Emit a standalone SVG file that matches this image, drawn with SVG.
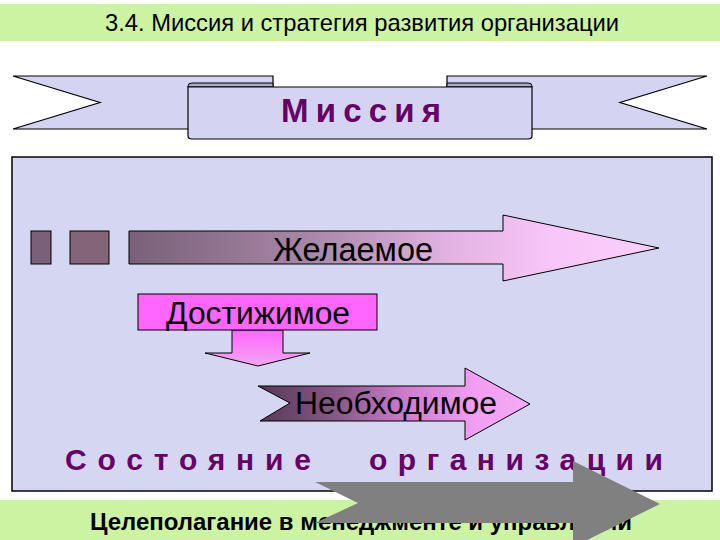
<svg xmlns="http://www.w3.org/2000/svg" width="720" height="540" viewBox="0 0 720 540">
<defs>
<style>
.band{fill:#ccf3a2}
.rib{fill:#d4d4f2;stroke:#000;stroke-width:1.2}
.fold{fill:#a9a9c9;stroke:#000;stroke-width:1}
.lbl{font-family:"Liberation Sans",Arial,sans-serif;fill:#000}
.big{font-family:"Liberation Sans",Arial,sans-serif;font-weight:bold;fill:#660066}
.ol{stroke:#000;stroke-width:1}
</style>
<linearGradient id="gDes" x1="129" y1="0" x2="659" y2="0" gradientUnits="userSpaceOnUse">
<stop offset="0" stop-color="#7a6078"/>
<stop offset="0.35" stop-color="#a888a8"/>
<stop offset="0.6" stop-color="#e2b2e2"/>
<stop offset="0.8" stop-color="#f8c6f8"/>
<stop offset="1" stop-color="#fccffc"/>
</linearGradient>
<linearGradient id="gNec" x1="258" y1="0" x2="530" y2="0" gradientUnits="userSpaceOnUse">
<stop offset="0" stop-color="#563856"/>
<stop offset="0.3" stop-color="#8a5a8a"/>
<stop offset="0.55" stop-color="#d07cd0"/>
<stop offset="0.8" stop-color="#f29ef2"/>
<stop offset="1" stop-color="#f6aaf6"/>
</linearGradient>
<linearGradient id="gDown" x1="0" y1="330" x2="0" y2="366" gradientUnits="userSpaceOnUse">
<stop offset="0" stop-color="#ff66ff"/>
<stop offset="1" stop-color="#f2a6f2"/>
</linearGradient>
</defs>

<rect class="band" x="0" y="4" width="720" height="37"/>
<text class="lbl" x="105" y="31" font-size="24" textLength="514" lengthAdjust="spacingAndGlyphs">3.4. Миссия и стратегия развития организации</text>

<g id="mission">
<path class="rib" d="M13,76 H273 V129 H13 L100,102.5 Z"/>
<path class="rib" d="M707,76 H447 V129 H707 L620,102.5 Z"/>
<path class="fold" d="M188,86 Q188,83 192,83 H273 V87 H188 Z"/>
<path class="fold" d="M532,86 Q532,83 528,83 H447 V87 H532 Z"/>
<path class="rib" d="M188,87 H532 V136 Q532,139 528,139 H192 Q188,139 188,136 Z"/>
<text class="big" x="281" y="122" font-size="33" textLength="160" lengthAdjust="spacing">Миссия</text>
</g>

<g id="state">
<rect x="12" y="157" width="700" height="334" fill="#d4d6f2" stroke="#000" stroke-width="1.5"/>
</g>

<g id="connectors">
<rect class="ol" x="31" y="231" width="20" height="33" fill="#7a6078"/>
<rect class="ol" x="70" y="231" width="39" height="33" fill="#846478"/>
<polygon class="ol" points="129,231 503,231 503,215 659,248 503,281 503,264 129,264" fill="url(#gDes)"/>
<polygon class="ol" points="232,330 283,330 283,353 310,353 258,366 205,353 232,353" fill="url(#gDown)"/>
<polygon class="ol" points="258,386 465,386 465,368 530,404 465,440 465,421 260,421 290,403" fill="url(#gNec)"/>
</g>

<g id="desired">
<text class="lbl" x="273" y="261" font-size="33" textLength="160" lengthAdjust="spacingAndGlyphs">Желаемое</text>
</g>

<g id="achievable">
<rect class="ol" x="138" y="294" width="239" height="36" fill="#ff66ff"/>
<text class="lbl" x="166" y="324" font-size="31" textLength="184" lengthAdjust="spacingAndGlyphs">Достижимое</text>
</g>

<g id="necessary">
<text class="lbl" x="295" y="414" font-size="31" textLength="202" lengthAdjust="spacingAndGlyphs">Необходимое</text>
</g>

<text class="big" x="65" y="470" font-size="30" textLength="246" lengthAdjust="spacing">Состояние</text>
<text class="big" x="369" y="470" font-size="30" textLength="294" lengthAdjust="spacing">организации</text>

<rect class="band" x="0" y="500" width="720" height="40"/>
<text class="lbl" x="90" y="530" font-size="24" font-weight="bold" textLength="542" lengthAdjust="spacingAndGlyphs">Целеполагание в менеджменте и управлении</text>

<g id="goal-arrow">
<polygon points="315,482 573,482 573,461 660,504 573,547 573,523 315,523 358,503" fill="#808080"/>
</g>
</svg>
